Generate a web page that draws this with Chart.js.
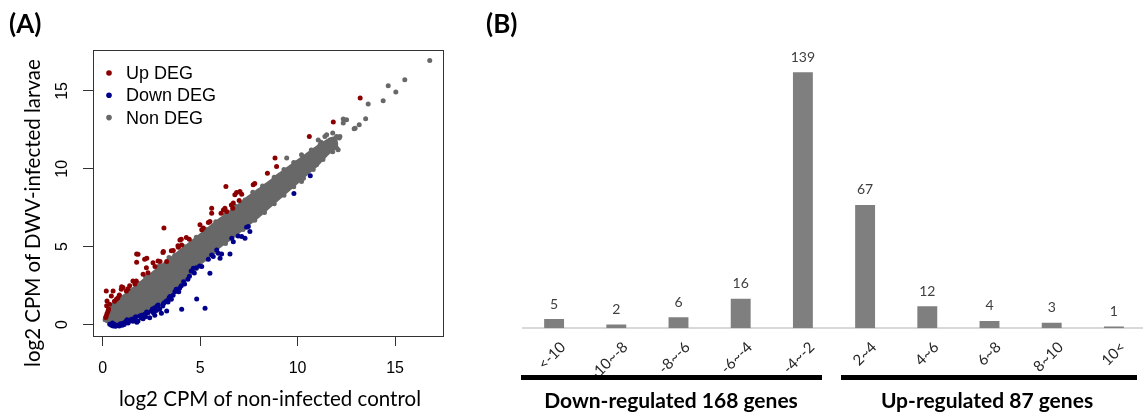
<!DOCTYPE html>
<html>
<head>
<meta charset="utf-8">
<script src="https://cdn.jsdelivr.net/npm/chart.js@4.4.1/dist/chart.umd.min.js"></script>
<style>
  html, body { margin: 0; padding: 0; background: #fff; }
  body { width: 1143px; height: 413px; overflow: hidden; position: relative; font-family: Lato, sans-serif; }
  canvas { position: absolute; top: 0; }
  #scatter { left: 0; }
  #bars { left: 470px; }
  .lbl { position: absolute; white-space: nowrap; color: #000; line-height: 1; }
  .panel { font-weight: bold; font-size: 26px; top: 23px; transform: translateY(-50%); }
  .axt { font-size: 20.5px; }
  .grp { font-weight: bold; font-size: 21px; top: 399px; transform: translate(-50%, -50%); }
  .rule { position: absolute; top: 375px; height: 5px; background: #000; }
</style>
</head>
<body>
<canvas id="scatter" width="460" height="413"></canvas>
<canvas id="bars" width="680" height="413"></canvas>
<div class="lbl panel" style="left:9px;">(A)</div>
<div class="lbl panel" style="left:486px;">(B)</div>
<div class="lbl axt" style="left:270px; top:398px; transform:translate(-50%,-50%);">log2 CPM of non-infected control</div>
<div class="lbl axt" style="left:32px; top:213px; transform:translate(-50%,-50%) rotate(-90deg);">log2 CPM of DWV-infected larvae</div>
<div class="rule" style="left:521px; width:301px;"></div>
<div class="rule" style="left:841px; width:296px;"></div>
<div class="lbl grp" style="left:671px;">Down-regulated 168 genes</div>
<div class="lbl grp" style="left:987px;">Up-regulated 87 genes</div>
<script>
// ---- panel A: log2 CPM scatter ----
var upDEG = [[0.15,0.45],[0.18,0.55],[0.22,0.7],[0.27,0.87],[0.3,1.0],[0.2,1.2],[0.22,1.51],[0.35,1.3],[0.44,1.83],[0.18,2.15],
  [0.53,2.15],[0.6,1.5],[0.7,1.62],[0.78,1.72],[0.85,1.9],[0.95,2.26],[1.04,2.37],[0.97,2.43],[1.21,2.15],[1.3,2.3],
  [1.38,2.48],[1.55,2.8],[1.72,2.8],[1.65,2.6],[1.81,4.51],[1.74,4.0],[1.74,4.53],[2.07,3.23],[2.15,4.19],[2.24,3.65],
  [2.26,4.26],[2.32,3.33],[2.58,3.97],[2.68,3.72],[2.84,4.08],[2.94,4.04],[3.09,4.62],[3.11,4.68],[3.14,6.19],[3.28,4.04],
  [3.52,4.73],[3.62,4.75],[3.86,5.05],[3.88,4.96],[3.96,5.43],[4.03,5.48],[4.05,5.11],[4.29,5.58],[4.44,5.48],[4.99,6.4],
  [5.08,6.08],[5.16,6.19],[5.42,6.55],[5.5,6.61],[5.59,7.47],[5.59,7.15],[6.07,7.15],[6.19,7.36],[6.27,7.47],[6.32,8.86],
  [6.36,7.25],[6.6,7.68],[6.67,7.47],[6.7,7.8],[6.78,8.33],[6.87,8.48],[7.0,7.96],[7.04,8.54],[7.13,8.37],[7.72,8.97],
  [7.8,9.05],[8.45,9.72],[8.84,10.69],[8.92,10.15],[10.6,12.08],[11.83,13.0],[13.21,14.55]];

var downDEG = [[0.36,0.01],[0.45,-0.05],[0.5,0.1],[0.53,-0.1],[0.62,0.0],[0.65,-0.12],[0.7,-0.08],[0.78,-0.05],[0.85,-0.1],[0.9,0.05],
  [0.95,0.0],[1.0,-0.05],[1.04,0.08],[1.1,0.0],[1.15,0.15],[1.21,0.23],[1.25,0.3],[1.3,0.1],[1.35,0.2],[1.47,0.33],
  [1.55,0.2],[1.6,0.3],[1.64,0.44],[1.7,0.5],[1.75,0.15],[1.81,0.23],[1.9,0.55],[1.98,0.44],[2.0,0.6],[2.07,0.37],
  [2.15,0.65],[2.2,0.5],[2.25,0.8],[2.32,0.76],[2.41,0.44],[2.49,0.87],[2.55,1.0],[2.6,0.75],[2.67,1.08],[2.67,0.59],
  [2.75,0.9],[2.8,1.2],[2.85,1.25],[2.92,0.98],[3.01,0.72],[3.08,1.19],[3.09,1.3],[3.15,1.4],[3.26,1.51],[3.28,0.87],
  [3.35,1.45],[3.4,1.7],[3.45,1.8],[3.52,1.62],[3.61,1.88],[3.7,2.1],[3.77,2.26],[3.9,2.1],[3.95,2.35],[4.03,2.48],
  [4.05,0.98],[4.15,2.75],[4.2,2.6],[4.37,2.91],[4.45,3.1],[4.54,3.44],[4.65,3.61],[4.7,3.3],[4.8,3.65],[4.82,1.64],
  [4.97,3.76],[5.08,3.72],[5.25,1.04],[5.42,4.19],[5.5,3.29],[5.59,4.47],[5.67,4.36],[5.85,4.79],[5.93,4.58],[6.02,4.26],
  [6.1,4.53],[6.53,4.53],[6.62,5.54],[6.7,5.32],[6.95,5.69],[7.13,5.65],[7.3,5.54],[7.38,6.25],[7.47,6.29],[7.55,5.97],
  [9.81,8.42],[10.65,9.55]];

var nonDEG = [[0.12,0.3],[0.2,0.45],[0.5,1.25],[0.9,1.8],[1.3,2.2],[1.8,2.65],[2.2,3.05],[2.9,3.75],[3.4,4.3],[3.7,4.45],
  [4.2,5.0],[4.8,5.6],[5.3,6.1],[5.8,6.6],[6.3,7.05],[6.8,7.6],[7.3,8.0],[7.7,8.5],[8.2,8.9],[8.8,9.45],
  [9.3,9.95],[9.8,10.4],[10.2,10.9],[10.7,11.2],[11.2,11.7],
  [0.5,0.05],[0.9,0.15],[1.4,0.35],[1.9,0.6],[2.4,0.95],[2.8,1.3],[3.3,1.8],[3.8,2.35],[4.3,3.0],[4.8,3.6],
  [5.3,4.2],[5.7,4.65],[6.3,5.2],[6.8,5.75],[7.2,6.1],[7.8,6.7],[8.3,7.2],[8.8,7.75],[9.3,8.3],[9.8,8.85],
  [10.3,9.4],[10.8,9.95],[11.3,10.6],[11.8,11.1],
  [9.44,10.69],[9.91,10.37],[10.2,9.18],[10.54,10.04],[10.97,10.26],[9.95,9.28],
  [11.06,11.85],[11.15,11.53],[11.4,12.07],[11.49,12.19],[11.66,11.85],[11.7,11.8],[11.8,12.3],[12.0,12.08],[12.13,11.97],[12.08,11.22],
  [12.0,11.33],[12.17,12.07],[12.34,12.94],[12.34,13.2],[12.51,13.15],[12.9,12.57],[12.95,12.6],[13.16,12.83],[13.49,13.22],[13.62,14.16],
  [14.39,14.37],[14.65,15.34],[15.04,14.93],[15.5,15.72],[16.78,16.95]];

// outline of the dense grey cloud: upper edge then lower edge back
var bandUpper = [[0.1,0.35],[0.15,0.55],[0.3,0.85],[0.6,1.3],[1.0,1.75],[1.5,2.25],[2.0,2.75],[2.5,3.25],[3.0,3.75],[3.5,4.25],
  [4.0,4.75],[4.5,5.25],[5.0,5.75],[5.5,6.25],[6.0,6.75],[6.5,7.2],[7.0,7.7],[7.5,8.2],[8.0,8.65],[8.5,9.1],
  [9.0,9.6],[9.5,10.05],[10.0,10.5],[10.5,10.95],[11.0,11.4],[11.5,11.8],[11.9,12.0]];
var bandLower = [[12.0,11.5],[11.5,10.9],[11.0,10.25],[10.5,9.7],[10.0,9.15],[9.5,8.6],[9.0,8.05],[8.5,7.5],[8.0,6.95],[7.5,6.45],
  [7.0,5.95],[6.5,5.45],[6.0,5.0],[5.5,4.45],[5.0,3.9],[4.5,3.25],[4.0,2.6],[3.5,2.05],[3.0,1.5],[2.5,1.05],
  [2.0,0.7],[1.5,0.45],[1.0,0.25],[0.6,0.12],[0.35,0.12],[0.15,0.2]];

var axisTicks = [0, 5, 10, 15];

// ---- panel B: fold-change bins ----
var binLabels = ['<-10', '-10~-8', '-8~-6', '-6~-4', '-4~-2', '2~4', '4~6', '6~8', '8~10', '10<'];
var geneCounts = [5, 2, 6, 16, 139, 67, 12, 4, 3, 1];

var toPts = a => a.map(p => ({x: p[0], y: p[1]}));

var rFrame = {
  id: 'rFrame',
  afterDraw(chart) {
    var ctx = chart.ctx, a = chart.chartArea, ys = chart.scales.y;
    ctx.save();
    ctx.strokeStyle = '#333';
    ctx.lineWidth = 1;
    ctx.strokeRect(Math.round(a.left) + 0.5, Math.round(a.top) + 0.5, Math.round(a.right - a.left), Math.round(a.bottom - a.top));
    // y tick labels turned like base R
    ctx.font = '16px "Liberation Sans"';
    ctx.fillStyle = '#000';
    ctx.textAlign = 'center';
    ctx.textBaseline = 'middle';
    axisTicks.forEach(v => {
      ctx.save();
      ctx.translate(63, ys.getPixelForValue(v));
      ctx.rotate(-Math.PI / 2);
      ctx.fillText(String(v), 0, 0);
      ctx.restore();
    });
    // legend, top-left inside the box
    ctx.font = '18px "Liberation Sans"';
    ctx.textAlign = 'left';
    chart.data.datasets.filter(d => d.inLegend).forEach((d, i) => {
      var yy = a.top + 23 + i * 22.3;
      ctx.fillStyle = d.backgroundColor;
      ctx.beginPath();
      ctx.arc(a.left + 16, yy, 2.8, 0, Math.PI * 2);
      ctx.fill();
      ctx.fillStyle = '#000';
      ctx.fillText(d.label, a.left + 33, yy + 1);
    });
    ctx.restore();
  }
};

var scatterChart = new Chart(document.getElementById('scatter').getContext('2d'), {
  type: 'scatter',
  data: {
    datasets: [
      { label: 'Up DEG', inLegend: true, data: toPts(upDEG), backgroundColor: '#8b0000', borderWidth: 0, pointRadius: 2.5, order: 0 },
      { label: 'Down DEG', inLegend: true, data: toPts(downDEG), backgroundColor: '#00008b', borderWidth: 0, pointRadius: 2.5, order: 0 },
      { label: 'Non DEG', inLegend: true, data: toPts(nonDEG), backgroundColor: '#686868', borderWidth: 0, pointRadius: 2.5, order: 1 },
      { label: 'cloud', type: 'line', data: toPts(bandUpper.concat(bandLower)), showLine: true, fill: 'shape',
        backgroundColor: '#686868', borderColor: '#686868', borderWidth: 3, borderJoinStyle: 'round',
        pointRadius: 0, tension: 0.2, order: 2 }
    ]
  },
  options: {
    responsive: false,
    animation: false,
    layout: { padding: { top: 50, right: 17, left: 0, bottom: 0 } },
    plugins: { legend: { display: false }, tooltip: { enabled: false } },
    scales: {
      x: {
        type: 'linear', min: -0.5, max: 17.46,
        afterBuildTicks: s => { s.ticks = axisTicks.map(v => ({value: v})); },
        afterFit: s => { s.height = 77; },
        grid: { drawOnChartArea: false, drawTicks: true, tickLength: 10, color: '#333' },
        border: { display: false },
        ticks: { font: { family: 'Liberation Sans', size: 16 }, color: '#000', padding: 13, autoSkip: false, maxRotation: 0 }
      },
      y: {
        type: 'linear', min: -0.74, max: 17.63,
        afterBuildTicks: s => { s.ticks = axisTicks.map(v => ({value: v})); },
        afterFit: s => { s.width = 93; },
        grid: { drawOnChartArea: false, drawTicks: true, tickLength: 10, color: '#333' },
        border: { display: false },
        ticks: { display: false }
      }
    }
  },
  plugins: [rFrame]
});

var valueLabels = {
  id: 'valueLabels',
  afterDatasetsDraw(chart) {
    var ctx = chart.ctx;
    var vals = chart.data.datasets[0].data;
    ctx.save();
    ctx.font = '14px Lato';
    ctx.fillStyle = '#404040';
    ctx.textAlign = 'center';
    ctx.textBaseline = 'middle';
    chart.getDatasetMeta(0).data.forEach((bar, i) => {
      ctx.fillText(String(vals[i]), bar.x, bar.y - 15);
    });
    ctx.restore();
  }
};

var barChart = new Chart(document.getElementById('bars').getContext('2d'), {
  type: 'bar',
  data: {
    labels: binLabels,
    datasets: [{ data: geneCounts, backgroundColor: '#7f7f7f', barPercentage: 0.32, categoryPercentage: 1 }]
  },
  options: {
    responsive: false,
    animation: false,
    layout: { padding: { top: 52, right: 5, left: 53, bottom: 0 } },
    plugins: { legend: { display: false }, tooltip: { enabled: false } },
    scales: {
      x: {
        afterFit: s => { s.height = 84.7; },
        grid: { display: false },
        border: { color: '#d9d9d9', width: 2 },
        ticks: { minRotation: 45, maxRotation: 45, autoSkip: false, padding: 2, labelOffset: 9,
                 font: { family: 'Lato', size: 15 }, color: '#262626' }
      },
      y: { display: false, min: 0, max: 150 }
    }
  },
  plugins: [valueLabels]
});
</script>
</body>
</html>
